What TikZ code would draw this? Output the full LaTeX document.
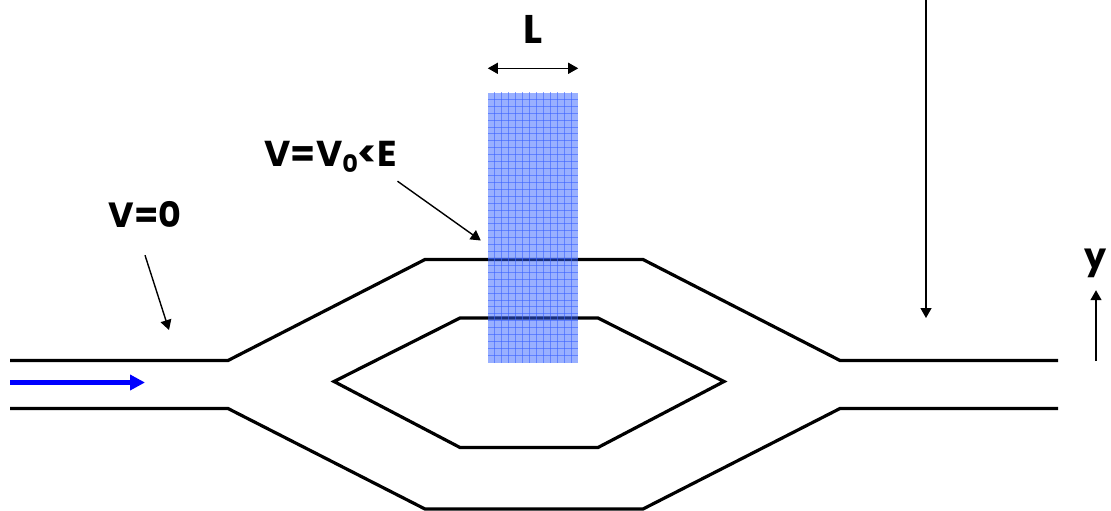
\documentclass[tikz,border=0pt]{standalone}
\usepackage{fontspec}
\setmainfont{Poppins}[BoldFont={* Bold}]
\usepackage{tikz}
\usetikzlibrary{arrows.meta, positioning, calc}
\definecolor{gateblue}{RGB}{51,97,255}
\definecolor{gridblue}{RGB}{60,100,255}
\definecolor{beamblue}{RGB}{0,0,255}

\begin{document}
\begin{tikzpicture}[
    x=1pt, y=-1pt,
    channel/.style={draw=black, line width=3.2pt},
    gate/.style={rectangle, fill=gateblue, fill opacity=0.5, minimum width=90pt, minimum height=270pt, inner sep=0pt},
    gridline/.style={draw=gridblue, line width=0.7pt, opacity=0.6},
    lbl/.style={font=\fontsize{35}{38}\selectfont\bfseries, inner sep=0pt, align=center},
    arrow/.style={-{Triangle[length=10pt, width=11pt]}, line width=1.4pt},
    beam/.style={-{Triangle[length=15pt, width=15pt]}, line width=5pt, beamblue},
]
    \useasboundingbox (0,0) rectangle (1111,511);

    % channel walls
    \draw[channel] (10,360.5) -- (228,360.5) -- (425,259.5) -- (643,259.5) -- (840,360.5) -- (1058,360.5);
    \draw[channel] (10,408.5) -- (228,408.5) -- (425,509) -- (643,509) -- (840,408.5) -- (1058,408.5);
    \draw[channel] (334,381.5) -- (460,318) -- (598,318) -- (724,381.5) -- (598,447.5) -- (460,447.5) -- cycle;

    % gate region
    \node[gate] (gatebox) at (533,227.5) {};
    \foreach \gx in {1,...,12}
        \draw[gridline] ($(gatebox.north west)+(7*\gx,0)$) -- ($(gatebox.south west)+(7*\gx,0)$);
    \foreach \gy in {1,...,38}
        \draw[gridline] ($(gatebox.north west)+(0,6.92*\gy)$) -- ($(gatebox.north east)+(0,6.92*\gy)$);

    \node[lbl, minimum height=82pt] (vzero) at (145,214) {V=0};
    \node[lbl, minimum height=48pt, font=\fontsize{36}{39}\selectfont\bfseries] (vgate) at (331,157) {V=V\raisebox{-0.3ex}{\fontsize{24}{24}\selectfont 0}<E};
    \node[lbl, font=\fontsize{40}{42}\selectfont\bfseries] (length) at (533,29) {L};
    \node[lbl, minimum height=54pt] (yaxis) at (1096,263) {y};

    \coordinate (vzerotip) at (169,330);
    \coordinate (vgatetip) at ($(gatebox.west)+(-7,13)$);
    \coordinate (probetop) at (926,0);
    \coordinate (probetip) at (926,318);
    \coordinate (yaxisfoot) at (1096,361);
    \coordinate (beamstart) at (10,382.5);
    \coordinate (beamtip) at (145,382.5);

    \draw[arrow] (vzero.south) -- (vzerotip);
    \draw[arrow] (vgate.south east) -- (vgatetip);
    \draw[{Triangle[length=10pt, width=11pt]}-{Triangle[length=10pt, width=11pt]}, line width=1.4pt] ($(gatebox.north west)+(0,-24)$) -- ($(gatebox.north east)+(0,-24)$);
    \draw[arrow] (probetop) -- (probetip);
    \draw[arrow] (yaxisfoot) -- (yaxis.south);
    \draw[beam] (beamstart) -- (beamtip);
\end{tikzpicture}
\end{document}
